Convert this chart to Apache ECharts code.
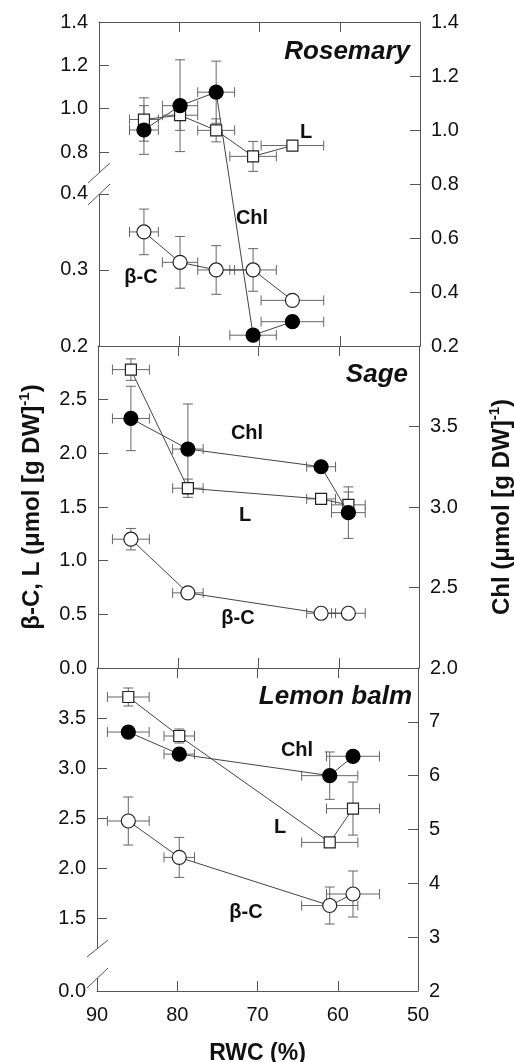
<!DOCTYPE html>
<html>
<head>
<meta charset="utf-8">
<script src="https://cdn.jsdelivr.net/npm/echarts@6/dist/echarts.min.js"></script>
<style>
  html, body { margin: 0; padding: 0; background: #fff; }
  #chart { width: 514px; height: 1062px; }
</style>
</head>
<body>
<div id="chart"></div>
<script>
// ---- data ----
// Rosemary
const rosRwc = [84.4, 79.9, 75.4, 70.8, 65.9];
const rosRwcErr = [1.8, 2.2, 2.3, 2.9, 3.9];
const rosChl = [1.00, 1.09, 1.14, 0.24, 0.29];
const rosChlErr = [0.09, 0.17, 0.115, 0.02, 0.02];
const rosL = [0.95, 0.97, 0.90, 0.78, 0.83];
const rosLErr = [0.10, 0.07, 0.053, 0.069, 0.02];
const rosBc = [0.35, 0.31, 0.30, 0.30, 0.26];
const rosBcErr = [0.03, 0.034, 0.032, 0.028, 0.005];

// Sage
const sagRwc = [85.9, 78.8, 62.2, 58.8];
const sagRwcErr = [2.3, 1.9, 1.8, 2.1];
const sagChl = [3.55, 3.36, 3.25, 2.965];
const sagChlErr = [0.2, 0.28, 0.03, 0.16];
const sagL = [2.78, 1.675, 1.575, 1.52];
const sagLErr = [0.1, 0.085, 0.05, 0.12];
const sagBc = [1.20, 0.70, 0.51, 0.51];
const sagBcErr = [0.1, 0.03, 0.02, 0.02];

// Lemon balm
const lemRwc = [86.1, 79.75, 61.0, 58.1];
const lemRwcErr = [2.6, 1.9, 3.5, 3.3];
const lemChl = [6.81, 6.40, 6.00, 6.36];
const lemChlErr = [0.05, 0.05, 0.44, 0.05];
const lemL = [3.71, 3.32, 2.256, 2.594];
const lemLErr = [0.09, 0.07, 0.04, 0.265];
const lemBc = [2.47, 2.106, 1.625, 1.74];
const lemBcErr = [0.24, 0.2, 0.185, 0.23];

// tick labels
const xTicks = [90, 80, 70, 60, 50];
const rosLTicks = [0.8, 1.0, 1.2, 1.4];
const rosBcTicks = [0.2, 0.3, 0.4];
const rosChlTicks = [0.2, 0.4, 0.6, 0.8, 1.0, 1.2, 1.4];
const sagLeftTicks = [0.0, 0.5, 1.0, 1.5, 2.0, 2.5];
const sagRightTicks = [2.0, 2.5, 3.0, 3.5];
const lemLeftTicks = [0.0, 1.5, 2.0, 2.5, 3.0, 3.5];
const lemRightTicks = [2, 3, 4, 5, 6, 7];

// broken axes: each piece gets its own linear extent
const ROS_L_MIN = -0.095, ROS_BC_MAX = 0.626, LEM_LEFT_MIN = 0.77;

const FONT = '"Liberation Sans", Arial, sans-serif';
const AX = '#555';

const zip = (xs, ys) => xs.map((x, i) => [x, ys[i]]);
const zipErr = (xs, ys, xe, ye) => xs.map((x, i) => [x, ys[i], xe[i], ye[i]]);

function errRender(params, api) {
  const x = api.value(0), y = api.value(1), ex = api.value(2), ey = api.value(3);
  const st = { stroke: '#666', lineWidth: 1 };
  const cap = 5;
  const kids = [];
  const seg = (a, b) => kids.push({ type: 'line', shape: { x1: a[0], y1: a[1], x2: b[0], y2: b[1] }, style: st });
  if (ex > 0) {
    const l = api.coord([x - ex, y]), r = api.coord([x + ex, y]);
    seg(l, r);
    seg([l[0], l[1] - cap], [l[0], l[1] + cap]);
    seg([r[0], r[1] - cap], [r[0], r[1] + cap]);
  }
  if (ey > 0) {
    const t = api.coord([x, y + ey]), b = api.coord([x, y - ey]);
    seg(t, b);
    seg([t[0] - cap, t[1]], [t[0] + cap, t[1]]);
    seg([b[0] - cap, b[1]], [b[0] + cap, b[1]]);
  }
  return { type: 'group', children: kids };
}

const grids = [
  { left: 99, top: 22, width: 321, height: 324, outerBoundsMode: 'none' },
  { left: 98, top: 346, width: 321, height: 322, outerBoundsMode: 'none' },
  { left: 97, top: 668, width: 321, height: 323, outerBoundsMode: 'none' }
];

function xAxisFor(gi, pos, showLabels) {
  return {
    type: 'value', gridIndex: gi, position: pos, min: 50, max: 90, interval: 10, inverse: true,
    axisLine: { show: true, onZero: false, lineStyle: { color: AX, width: 1 } },
    axisTick: { show: true, inside: true, length: 10, lineStyle: { color: AX } },
    axisLabel: { show: showLabels, color: '#111', fontSize: 20, fontFamily: FONT, margin: 14,
      customValues: xTicks },
    splitLine: { show: false },
    name: showLabels ? 'RWC (%)' : '',
    nameLocation: 'middle', nameGap: 51,
    nameTextStyle: { color: '#111', fontSize: 23, fontWeight: 'bold', fontFamily: FONT }
  };
}

function yAxisFor(gi, pos, min, max, ticks, fmt, showLine) {
  return {
    type: 'value', gridIndex: gi, position: pos, min: min, max: max,
    axisLine: { show: showLine, onZero: false, lineStyle: { color: AX, width: 1 } },
    axisTick: { show: true, inside: true, length: 10, lineStyle: { color: AX }, customValues: ticks },
    axisLabel: { color: '#111', fontSize: 20, fontFamily: FONT, margin: 11, customValues: ticks, formatter: fmt },
    splitLine: { show: false }
  };
}

const f1 = v => v.toFixed(1);
const lemLeftVals = lemLeftTicks.map(v => Math.max(v, LEM_LEFT_MIN));
const lemLeftFmt = v => (v <= LEM_LEFT_MIN + 1e-6 ? '0.0' : v.toFixed(1));

const nameRich = {
  n: { fontSize: 24, fontWeight: 'bold', fontFamily: FONT, color: '#111', lineHeight: 30 },
  s: { fontSize: 15, fontWeight: 'bold', fontFamily: FONT, color: '#111', verticalAlign: 'top', lineHeight: 30 }
};

const yAxes = [
  yAxisFor(0, 'left', ROS_L_MIN, 1.4, rosLTicks, f1, true),          // 0 rosemary L (upper piece)
  yAxisFor(0, 'left', 0.2, ROS_BC_MAX, rosBcTicks, f1, false),       // 1 rosemary β-C (lower piece)
  yAxisFor(0, 'right', 0.2, 1.4, rosChlTicks, f1, true),             // 2 rosemary Chl
  yAxisFor(1, 'left', 0, 3, sagLeftTicks, f1, true),                 // 3 sage β-C, L
  yAxisFor(1, 'right', 2, 4, sagRightTicks, f1, true),               // 4 sage Chl
  yAxisFor(2, 'left', LEM_LEFT_MIN, 4, lemLeftVals, lemLeftFmt, true), // 5 lemon β-C, L
  yAxisFor(2, 'right', 2, 8, lemRightTicks, v => String(v), true)    // 6 lemon Chl
];
Object.assign(yAxes[3], {
  name: '{n|β-C, L (μmol [g DW]}{s|-1}{n|)}', nameLocation: 'middle', nameRotate: 90, nameGap: 51,
  nameTextStyle: { rich: nameRich }
});
Object.assign(yAxes[4], {
  name: '{n|Chl (μmol [g DW]}{s|-1}{n|)}', nameLocation: 'middle', nameRotate: 90, nameGap: 68,
  nameTextStyle: { rich: nameRich }
});

const xAxes = [
  xAxisFor(0, 'bottom', false), xAxisFor(0, 'top', false),
  xAxisFor(1, 'bottom', false), xAxisFor(1, 'top', false),
  xAxisFor(2, 'bottom', true), xAxisFor(2, 'top', false)
];

function lineSeries(name, xi, yi, data, kind) {
  const filled = kind === 'filled';
  return {
    name: name, type: 'line', xAxisIndex: xi, yAxisIndex: yi, data: data,
    symbol: kind === 'square' ? 'rect' : 'circle',
    symbolSize: kind === 'square' ? 11 : 14,
    lineStyle: { color: '#444', width: 1 },
    itemStyle: { color: filled ? '#000' : '#fff', borderColor: filled ? '#000' : '#222', borderWidth: 1.2 },
    z: kind === 'filled' ? 4 : 3,
    clip: false
  };
}
function errSeries(xi, yi, data) {
  return { type: 'custom', xAxisIndex: xi, yAxisIndex: yi, data: data, renderItem: errRender,
    encode: { x: 0, y: 1 }, z: 1, silent: true, clip: false };
}

const series = [
  errSeries(0, 0, zipErr(rosRwc, rosL, rosRwcErr, rosLErr)),
  errSeries(0, 1, zipErr(rosRwc, rosBc, rosRwcErr, rosBcErr)),
  errSeries(0, 2, zipErr(rosRwc, rosChl, rosRwcErr, rosChlErr)),
  lineSeries('L', 0, 0, zip(rosRwc, rosL), 'square'),
  lineSeries('β-C', 0, 1, zip(rosRwc, rosBc), 'open'),
  lineSeries('Chl', 0, 2, zip(rosRwc, rosChl), 'filled'),

  errSeries(2, 3, zipErr(sagRwc, sagL, sagRwcErr, sagLErr)),
  errSeries(2, 3, zipErr(sagRwc, sagBc, sagRwcErr, sagBcErr)),
  errSeries(2, 4, zipErr(sagRwc, sagChl, sagRwcErr, sagChlErr)),
  lineSeries('L', 2, 3, zip(sagRwc, sagL), 'square'),
  lineSeries('β-C', 2, 3, zip(sagRwc, sagBc), 'open'),
  lineSeries('Chl', 2, 4, zip(sagRwc, sagChl), 'filled'),

  errSeries(4, 5, zipErr(lemRwc, lemL, lemRwcErr, lemLErr)),
  errSeries(4, 5, zipErr(lemRwc, lemBc, lemRwcErr, lemBcErr)),
  errSeries(4, 6, zipErr(lemRwc, lemChl, lemRwcErr, lemChlErr)),
  lineSeries('L', 4, 5, zip(lemRwc, lemL), 'square'),
  lineSeries('β-C', 4, 5, zip(lemRwc, lemBc), 'open'),
  lineSeries('Chl', 4, 6, zip(lemRwc, lemChl), 'filled')
];

const txt = (text, x, y, size) => ({
  type: 'text', z: 100,
  style: { text: text, x: x, y: y, fill: '#111', font: 'bold ' + size + 'px ' + FONT,
    textAlign: 'center', textVerticalAlign: 'middle' }
});
const title = (text, x, y) => ({
  type: 'text', z: 100,
  style: { text: text, x: x, y: y, fill: '#111', font: 'italic bold 26px ' + FONT,
    textAlign: 'right', textVerticalAlign: 'middle' }
});
const slash = (x1, y1, x2, y2) => ({ type: 'line', z: 101,
  shape: { x1: x1, y1: y1, x2: x2, y2: y2 }, style: { stroke: AX, lineWidth: 1 } });
const gap = (x, y1, y2) => ({ type: 'rect', z: 100,
  shape: { x: x - 3, y: y1, width: 6, height: y2 - y1 }, style: { fill: '#fff' } });

const graphic = [
  title('Rosemary', 410, 52),
  title('Sage', 408, 375),
  title('Lemon balm', 412, 697),
  txt('L', 306, 132, 20), txt('Chl', 252, 218, 20), txt('β-C', 141, 277, 20),
  txt('Chl', 247, 433, 20), txt('L', 245, 515, 20), txt('β-C', 238, 618, 20),
  txt('Chl', 297, 750, 20), txt('L', 280, 827, 20), txt('β-C', 246, 912, 20),
  gap(99, 173, 194), slash(88, 183, 110, 163), slash(88, 205, 110, 184),
  gap(97, 949, 978), slash(87, 957, 108, 940), slash(87, 988, 108, 968)
];

const chart = echarts.init(document.getElementById('chart'));
chart.setOption({
  animation: false,
  backgroundColor: '#fff',
  textStyle: { fontFamily: FONT },
  grid: grids,
  xAxis: xAxes,
  yAxis: yAxes,
  series: series,
  graphic: graphic
});
</script>
</body>
</html>
